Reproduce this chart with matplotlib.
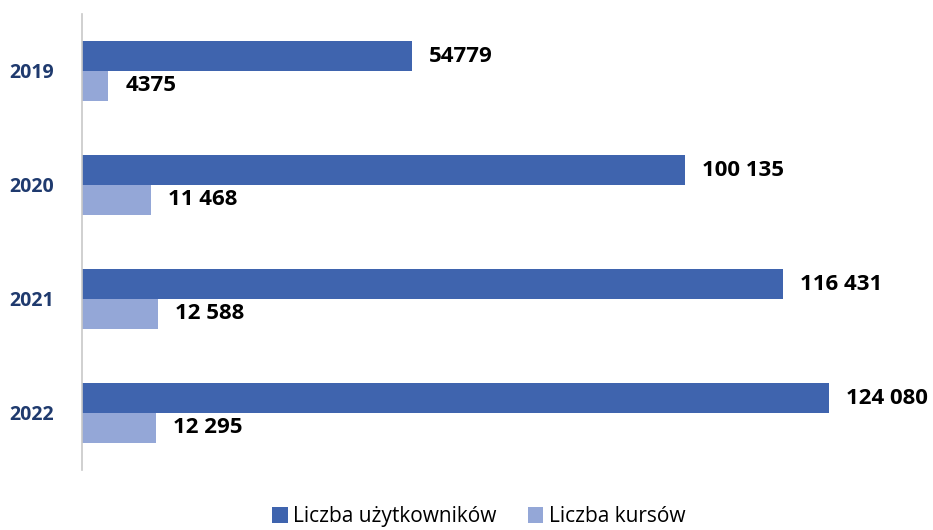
import numpy as np
import matplotlib.pyplot as plt

# --- dane ---
lata = ["2019", "2020", "2021", "2022"]
uzytkownicy = [54779, 100135, 116431, 124080]
kursy = [4375, 11468, 12588, 12295]
etykiety_uz = ["54779", "100 135", "116 431", "124 080"]
etykiety_ku = ["4375", "11 468", "12 588", "12 295"]

ciemny = "#3F64AE"
jasny = "#94A7D7"

plt.rcParams['font.family'] = ['Open Sans', 'DejaVu Sans']

fig = plt.figure(figsize=(9.33, 5.30), dpi=100)
ax = fig.add_axes([82/933, 60/530, (925-82)/933, (516-60)/530])

y = np.arange(len(lata))
h = 0.263

b1 = ax.barh(y - h/2, uzytkownicy, h, color=ciemny, label="Liczba użytkowników")
b2 = ax.barh(y + h/2, kursy, h, color=jasny, label="Liczba kursów")

# wartosci przy slupkach
for bar, txt in zip(b1, etykiety_uz):
    ax.text(bar.get_width() + 2800, bar.get_y() + bar.get_height()/2, txt,
            ha='left', va='center', fontsize=16, fontweight='bold', color='black')
for bar, txt in zip(b2, etykiety_ku):
    ax.text(bar.get_width() + 2800, bar.get_y() + bar.get_height()/2, txt,
            ha='left', va='center', fontsize=16, fontweight='bold', color='black')

ax.set_xlim(0, 140000)
ax.set_ylim(3.5, -0.5)
ax.set_yticks(y)
ax.set_yticklabels(lata, fontsize=14, fontweight='bold', color="#1F3A6E")
ax.tick_params(axis='y', length=0, pad=20)
ax.set_xticks([])

for s in ['top', 'right', 'bottom']:
    ax.spines[s].set_visible(False)
ax.spines['left'].set_color("#C8C8C8")
ax.spines['left'].set_linewidth(1.2)

fig.legend(loc='lower center', bbox_to_anchor=(0.513, -0.03), ncol=2, frameon=False,
           fontsize=15, handlelength=0.75, handleheight=0.75, handletextpad=0.25,
           columnspacing=1.5)

fig.savefig("out.png", dpi=100)
